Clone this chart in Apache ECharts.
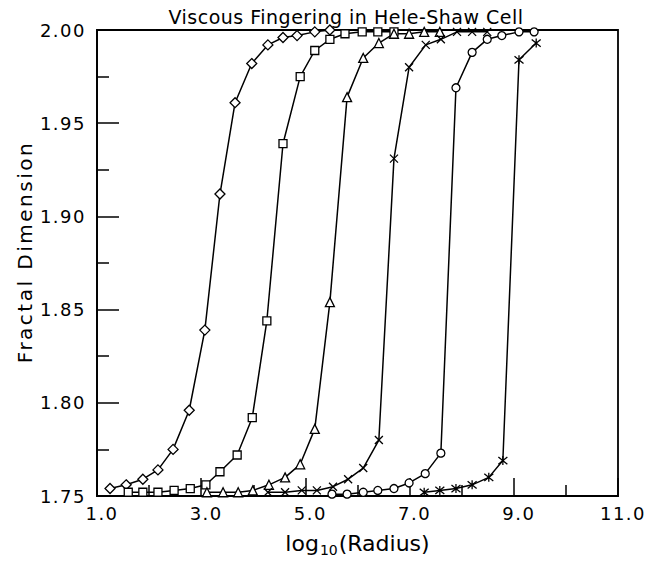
<!DOCTYPE html>
<html>
<head>
<meta charset="utf-8">
<script src="https://cdn.jsdelivr.net/npm/echarts@6/dist/echarts.min.js"></script>
<style>html,body{margin:0;padding:0;background:#fff;}#c{width:647px;height:562px;}</style>
</head>
<body>
<div id="c"></div>
<script>
const titleText = 'Viscous Fingering in Hele-Shaw Cell';
const yTitle = 'Fractal Dimension';

const diamondX = [1.25, 1.56, 1.88, 2.17, 2.46, 2.77, 3.07, 3.36, 3.65, 3.97, 4.28, 4.57, 4.84, 5.18, 5.47];
const diamondY = [1.754, 1.756, 1.759, 1.764, 1.775, 1.796, 1.839, 1.912, 1.961, 1.982, 1.992, 1.996, 1.997, 1.999, 2.000];

const squareX = [1.60, 1.88, 2.17, 2.48, 2.79, 3.09, 3.36, 3.69, 3.98, 4.26, 4.57, 4.90, 5.18, 5.47, 5.76, 6.09, 6.39, 6.70];
const squareY = [1.752, 1.752, 1.752, 1.753, 1.754, 1.756, 1.763, 1.772, 1.792, 1.844, 1.939, 1.975, 1.989, 1.995, 1.998, 1.999, 1.999, 1.999];

const triangleX = [3.11, 3.42, 3.71, 3.99, 4.30, 4.61, 4.90, 5.18, 5.47, 5.80, 6.11, 6.41, 6.70, 6.99, 7.28, 7.58];
const triangleY = [1.752, 1.752, 1.752, 1.753, 1.756, 1.760, 1.767, 1.786, 1.854, 1.964, 1.985, 1.993, 1.998, 1.998, 1.999, 1.999];

const crossX = [4.28, 4.61, 4.93, 5.22, 5.53, 5.82, 6.11, 6.41, 6.70, 6.99, 7.31, 7.60, 7.91, 8.20, 8.49];
const crossY = [1.752, 1.752, 1.753, 1.753, 1.755, 1.759, 1.765, 1.780, 1.931, 1.980, 1.992, 1.995, 1.999, 1.999, 1.999];

const circleX = [5.51, 5.80, 6.11, 6.39, 6.70, 6.99, 7.30, 7.60, 7.89, 8.20, 8.49, 8.77, 9.10, 9.39];
const circleY = [1.751, 1.751, 1.752, 1.753, 1.754, 1.757, 1.762, 1.773, 1.969, 1.988, 1.995, 1.997, 1.999, 1.999];

const starX = [7.28, 7.58, 7.89, 8.20, 8.52, 8.79, 9.10, 9.43];
const starY = [1.752, 1.753, 1.754, 1.756, 1.760, 1.769, 1.984, 1.993];

const xMin = 1, xMax = 11, xStep = 2;
const yMin = 1.75, yMax = 2.00, yStep = 0.05;

const FONT = 'DejaVu Sans';
const zip = (a, b) => a.map((v, i) => [v, b[i]]);

function mk(xs, ys, symbol, size) {
  return {
    type: 'line',
    data: zip(xs, ys),
    symbol: symbol,
    symbolSize: size,
    showSymbol: true,
    lineStyle: { color: '#000', width: 1.5 },
    itemStyle: { color: '#fff', borderColor: '#000', borderWidth: 1.3 },
    emphasis: { disabled: true },
    z: 3
  };
}

const chart = echarts.init(document.getElementById('c'), null, { renderer: 'svg' });
chart.setOption({
  animation: false,
  backgroundColor: '#fff',
  textStyle: { fontFamily: FONT, color: '#000' },
  title: {
    text: titleText,
    left: 341, top: 2, textAlign: 'center',
    textStyle: { fontFamily: FONT, fontSize: 19, fontWeight: 'normal', color: '#000' }
  },
  grid: {
    left: 97, right: 29, top: 30, bottom: 62,
    show: true, borderColor: '#000', borderWidth: 1.8, backgroundColor: 'transparent'
  },
  xAxis: {
    type: 'value', min: xMin, max: xMax, interval: xStep,
    name: '{a|log}{b|10}{a|(Radius)}',
    nameLocation: 'middle', nameGap: 33,
    nameTextStyle: {
      rich: {
        a: { fontFamily: FONT, fontSize: 22, color: '#000' },
        b: { fontFamily: FONT, fontSize: 14, color: '#000', padding: [14, 1, 0, 1] }
      }
    },
    axisLine: { show: true, lineStyle: { color: '#000', width: 1.8 } },
    axisTick: { show: true, inside: true, length: 18, lineStyle: { color: '#000', width: 1.5 } },
    minorTick: { show: true, splitNumber: 2, length: 11, lineStyle: { color: '#000', width: 1.5 } },
    splitLine: { show: false },
    axisLabel: {
      fontFamily: FONT, fontSize: 18, color: '#000', margin: 8, padding: [0, 0, 0, 10],
      formatter: v => v.toFixed(1)
    }
  },
  yAxis: {
    type: 'value', min: yMin, max: yMax, interval: yStep,
    name: yTitle, nameLocation: 'middle', nameGap: 60,
    nameTextStyle: { fontFamily: FONT, fontSize: 20, color: '#000', padding: [0, 0, 0, 22] },
    axisLine: { show: true, lineStyle: { color: '#000', width: 1.8 } },
    axisTick: { show: true, inside: true, length: 22, lineStyle: { color: '#000', width: 1.5 } },
    minorTick: { show: true, splitNumber: 2, length: 12, lineStyle: { color: '#000', width: 1.5 } },
    splitLine: { show: false },
    axisLabel: {
      fontFamily: FONT, fontSize: 18, color: '#000', margin: 11,
      formatter: v => v.toFixed(2)
    }
  },
  series: [
    mk(diamondX, diamondY, 'diamond', 10),
    mk(squareX, squareY, 'rect', 8),
    mk(triangleX, triangleY, 'triangle', 9),
    mk(crossX, crossY, 'path://M0,0L10,10M10,0L0,10', 8),
    mk(circleX, circleY, 'circle', 8),
    mk(starX, starY, 'path://M0,1L10,9M10,1L0,9M5,0L5,10', 9)
  ]
});

function spaceText() {
  const texts = document.querySelectorAll('#c svg text');
  texts.forEach(t => {
    const s = t.textContent;
    let ls = null;
    if (s === titleText) ls = 0.5;
    else if (s === yTitle) ls = 2.5;
    else if (/^\d+\.\d+$/.test(s)) ls = 1.5;
    if (ls !== null) t.style.letterSpacing = ls + 'px';
  });
}
spaceText();
chart.on('finished', spaceText);
</script>
</body>
</html>
